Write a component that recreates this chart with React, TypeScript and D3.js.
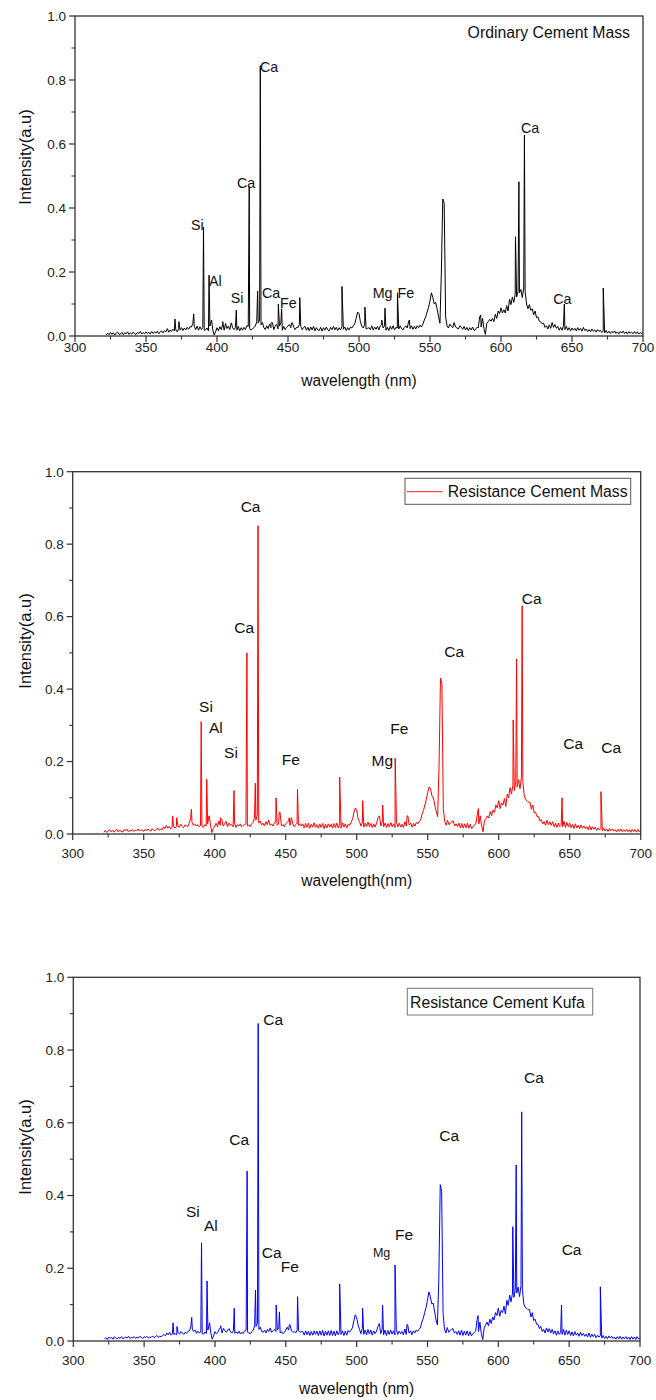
import React from 'react';
import * as d3 from 'd3';

// ---------- shared axis values ----------
const WL_START = 322; // first wavelength (nm) of the sampled spectra, 1 nm step
const xTicks = [300, 350, 400, 450, 500, 550, 600, 650, 700];
const xMinor = [325, 375, 425, 475, 525, 575, 625, 675];
const yTicks = [0, 0.2, 0.4, 0.6, 0.8, 1.0];
const yMinor = [0.1, 0.3, 0.5, 0.7, 0.9];

// ---------- Ordinary Cement Mass (intensity x 0.001, 322..700 nm) ----------
const ordinaryBase = [
  3, 9, 4, 11, 5, 10, 3, 9, 12, 5,
  6, 11, 4, 10, 7, 13, 5, 10, 6, 12,
  7, 5, 11, 8, 14, 6, 11, 7, 13, 8,
  12, 6, 14, 8, 13, 9, 15, 7, 13, 16,
  10, 17, 13, 23, 12, 19, 14, 21, 16, 19,
  13, 23, 18, 26, 17, 25, 19, 27, 21, 29,
  28, 40, 30, 20, 31, 18, 29, 20, 26, 18,
  19, 25, 16, 31, 48, 20, 3, 13, 26, 16,
  29, 20, 36, 18, 39, 23, 31, 20, 41, 26,
  20, 27, 18, 30, 16, 26, 18, 27, 20, 32,
  30, 24, 18, 23, 26, 31, 45, 40, 50, 35,
  42, 26, 20, 32, 23, 37, 26, 42, 20, 32,
  36, 22, 31, 41, 18, 30, 20, 27, 32, 36,
  26, 42, 28, 20, 27, 26, 36, 30, 20, 27,
  30, 18, 27, 16, 28, 19, 30, 16, 26, 19,
  17, 27, 15, 26, 18, 28, 19, 16, 27, 20,
  30, 19, 27, 17, 26, 19, 30, 21, 28, 17,
  26, 19, 28, 25, 32, 38, 55, 75, 70, 45,
  30, 25, 37, 22, 24, 26, 20, 32, 19, 28,
  21, 30, 19, 32, 36, 25, 32, 18, 27, 17,
  30, 21, 32, 19, 27, 25, 22, 32, 23, 19,
  27, 32, 25, 46, 23, 32, 21, 30, 22, 32,
  26, 34, 28, 37, 50, 60, 75, 90, 110, 135,
  120, 100, 105, 85, 60, 40, 200, 428, 415, 60,
  32, 25, 37, 30, 26, 42, 28, 25, 22, 32,
  28, 21, 30, 19, 27, 17, 26, 19, 28, 17,
  20, 27, 26, 60, 28, 55, 23, 5, 40, 45,
  52, 46, 55, 45, 68, 55, 78, 70, 88, 72,
  82, 72, 95, 78, 115, 98, 122, 105, 130, 122,
  140, 135, 145, 120, 150, 140, 100, 85, 98, 80,
  85, 66, 78, 57, 60, 46, 44, 38, 40, 27,
  32, 22, 35, 24, 42, 27, 36, 24, 30, 18,
  27, 18, 32, 20, 30, 18, 26, 16, 25, 18,
  24, 16, 26, 18, 24, 15, 27, 17, 21, 14,
  20, 13, 22, 15, 19, 12, 20, 14, 18, 11,
  16, 10, 17, 9, 15, 8, 14, 10, 16, 8,
  13, 7, 14, 9, 15, 8, 13, 6, 14, 9,
  12, 7, 14, 8, 13, 6, 11, 7, 12,
];
const ordinaryLines: [number, number][] = [
  [370.4, 0.053], [373.2, 0.045], [383.6, 0.069], [390.5, 0.34], [394.4, 0.19],
  [396.2, 0.05], [404, 0.045], [410.2, 0.04], [413.6, 0.081], [422.7, 0.467],
  [428.6, 0.14], [430.5, 0.845], [438, 0.04], [443.2, 0.10], [445.5, 0.085],
  [452.5, 0.04], [458.3, 0.12], [488, 0.155], [504.2, 0.09], [516, 0.05],
  [518.3, 0.087], [527.1, 0.135], [535.5, 0.05], [585.7, 0.066], [610.2, 0.31],
  [612.6, 0.482], [616.5, 0.628], [644.6, 0.10], [672, 0.15],
];
const ordinaryLabels: [string, number, number, number][] = [
  ['Ca', 430.3, 0.825, 14.3], ['Ca', 414.1, 0.462, 14.3], ['Si', 381.7, 0.331, 14.3],
  ['Al', 394.4, 0.156, 14.3], ['Si', 409.6, 0.103, 14.3], ['Ca', 431.7, 0.119, 14.3],
  ['Fe', 444.4, 0.0875, 14.3], ['Mg', 509.6, 0.119, 14.3], ['Fe', 527.2, 0.119, 14.3],
  ['Ca', 614.1, 0.634, 14.3], ['Ca', 636.8, 0.10, 14.3],
];

// ---------- Resistance Cement Mass ----------
const massBase = [
  5, 10, 4, 9, 12, 6, 10, 5, 9, 13,
  6, 11, 8, 5, 12, 9, 14, 7, 10, 8,
  12, 7, 11, 9, 14, 8, 12, 10, 7, 13,
  9, 14, 10, 8, 15, 11, 9, 13, 16, 10,
  14, 12, 20, 15, 24, 16, 21, 14, 19, 22,
  16, 20, 24, 18, 27, 21, 17, 25, 23, 20,
  30, 42, 32, 24, 28, 22, 26, 20, 24, 21,
  18, 26, 22, 28, 50, 25, 4, 15, 22, 30,
  20, 36, 24, 40, 22, 28, 35, 20, 30, 24,
  26, 20, 30, 18, 26, 22, 28, 20, 24, 26,
  28, 22, 25, 20, 28, 32, 45, 38, 52, 30,
  36, 25, 30, 22, 34, 26, 38, 24, 28, 22,
  30, 36, 24, 28, 60, 22, 26, 20, 28, 32,
  36, 24, 45, 28, 20, 26, 30, 24, 28, 22,
  28, 17, 29, 18, 30, 16, 27, 19, 31, 18,
  26, 16, 28, 18, 29, 15, 27, 17, 28, 19,
  27, 16, 29, 18, 30, 17, 28, 16, 31, 19,
  28, 17, 27, 24, 32, 40, 58, 72, 66, 42,
  34, 22, 33, 19, 30, 21, 33, 20, 29, 18,
  28, 19, 30, 45, 50, 22, 34, 20, 30, 18,
  29, 19, 32, 20, 28, 18, 33, 20, 30, 19,
  27, 18, 34, 22, 50, 25, 30, 19, 29, 22,
  32, 28, 35, 38, 55, 65, 80, 95, 115, 130,
  125, 105, 100, 80, 62, 48, 190, 430, 415, 70,
  34, 24, 38, 26, 29, 35, 36, 22, 28, 20,
  30, 17, 29, 16, 28, 17, 30, 16, 27, 15,
  21, 24, 30, 55, 28, 50, 22, 6, 38, 42,
  50, 44, 62, 50, 66, 60, 80, 72, 92, 70,
  86, 80, 98, 76, 110, 100, 128, 110, 135, 120,
  145, 130, 150, 125, 155, 145, 105, 95, 92, 88,
  88, 68, 80, 58, 60, 48, 48, 36, 40, 28,
  34, 24, 38, 26, 34, 24, 34, 20, 30, 18,
  30, 20, 24, 20, 35, 18, 32, 20, 30, 17,
  27, 15, 28, 17, 24, 14, 25, 16, 22, 15,
  20, 12, 23, 11, 20, 13, 19, 10, 17, 12,
  15, 9, 16, 8, 14, 7, 15, 9, 14, 8,
  12, 6, 13, 7, 14, 6, 12, 7, 13, 6,
  12, 5, 13, 6, 12, 5, 13, 6, 10,
];
const massLines: [number, number][] = [
  [370.4, 0.05], [373.2, 0.045], [383.6, 0.068], [390.5, 0.31], [394.4, 0.151],
  [396.2, 0.05], [404, 0.045], [413.6, 0.12], [422.7, 0.50], [428.6, 0.14],
  [430.5, 0.851], [443.2, 0.10], [445.5, 0.06], [452.5, 0.045], [458.3, 0.123],
  [488, 0.157], [504.2, 0.092], [518.3, 0.08], [527.1, 0.209], [535.5, 0.05],
  [585.7, 0.07], [610.2, 0.315], [612.6, 0.483], [616.5, 0.63], [644.6, 0.10],
  [672, 0.117],
];
const massLabels: [string, number, number, number][] = [
  ['Ca', 418.3, 0.889, 15.5], ['Ca', 413.8, 0.555, 15.5], ['Si', 389, 0.338, 15.5],
  ['Al', 396, 0.279, 15.5], ['Si', 406.6, 0.21, 15.5], ['Fe', 447.2, 0.19, 15.5],
  ['Mg', 510.5, 0.188, 15.5], ['Fe', 523.7, 0.276, 15.5], ['Ca', 561.7, 0.489, 15.5],
  ['Ca', 616.2, 0.635, 15.5], ['Ca', 645.5, 0.235, 15.5], ['Ca', 672.3, 0.224, 15.5],
];

// ---------- Resistance Cement Kufa ----------
const kufaBase = [
  6, 9, 4, 11, 7, 10, 5, 12, 8, 6,
  10, 7, 12, 6, 9, 11, 8, 13, 7, 10,
  9, 12, 7, 11, 8, 13, 10, 7, 12, 9,
  13, 8, 11, 10, 14, 9, 12, 15, 10, 13,
  12, 15, 18, 14, 22, 17, 24, 16, 20, 18,
  20, 17, 23, 19, 26, 22, 18, 24, 21, 27,
  28, 40, 33, 26, 30, 21, 27, 22, 25, 20,
  19, 25, 21, 30, 46, 24, 5, 14, 26, 20,
  24, 32, 38, 22, 35, 28, 24, 30, 34, 25,
  22, 28, 21, 25, 20, 27, 19, 24, 21, 28,
  30, 24, 22, 20, 26, 30, 42, 40, 48, 32,
  38, 26, 24, 30, 22, 32, 26, 36, 24, 28,
  32, 26, 30, 36, 22, 26, 20, 24, 30, 38,
  30, 44, 28, 24, 26, 22, 30, 28, 24, 26,
  26, 16, 28, 17, 27, 15, 26, 16, 28, 18,
  27, 15, 28, 16, 29, 14, 27, 16, 28, 15,
  29, 15, 27, 14, 28, 17, 26, 18, 28, 15,
  27, 16, 29, 24, 30, 36, 55, 72, 64, 44,
  32, 20, 35, 18, 30, 17, 32, 19, 30, 16,
  28, 20, 27, 40, 48, 20, 33, 17, 30, 15,
  29, 18, 30, 19, 28, 17, 32, 18, 27, 20,
  26, 17, 33, 18, 45, 22, 28, 17, 28, 22,
  30, 26, 32, 36, 52, 62, 78, 92, 112, 135,
  122, 102, 104, 82, 58, 44, 170, 430, 412, 75,
  33, 22, 37, 24, 29, 32, 34, 22, 26, 18,
  28, 16, 30, 15, 27, 16, 28, 14, 26, 14,
  20, 23, 28, 58, 26, 52, 20, 4, 36, 44,
  52, 42, 60, 48, 66, 58, 78, 70, 90, 68,
  84, 78, 96, 74, 112, 98, 126, 108, 132, 120,
  142, 132, 148, 122, 152, 142, 102, 92, 90, 86,
  86, 66, 78, 56, 60, 46, 46, 34, 40, 26,
  32, 22, 36, 25, 34, 22, 32, 20, 28, 16,
  28, 18, 23, 18, 32, 16, 30, 18, 28, 15,
  25, 14, 26, 16, 22, 13, 24, 15, 21, 13,
  19, 11, 22, 10, 19, 12, 18, 9, 16, 11,
  14, 8, 15, 7, 13, 6, 14, 8, 13, 7,
  11, 5, 12, 6, 13, 5, 11, 6, 12, 5,
  11, 4, 12, 5, 11, 4, 12, 5, 9,
];
const kufaLines: [number, number][] = [
  [370.4, 0.05], [373.2, 0.04], [383.6, 0.065], [390.5, 0.27], [394.4, 0.165],
  [396.2, 0.05], [404, 0.042], [413.6, 0.09], [422.7, 0.467], [428.6, 0.14],
  [430.5, 0.873], [443.2, 0.099], [445.5, 0.08], [452.5, 0.045], [458.3, 0.122],
  [488, 0.157], [504.2, 0.09], [518.3, 0.099], [527.1, 0.209], [535.5, 0.045],
  [585.7, 0.07], [610.2, 0.314], [612.6, 0.484], [616.5, 0.63], [644.6, 0.099],
  [672, 0.149],
];
const kufaLabels: [string, number, number, number][] = [
  ['Ca', 434.1, 0.868, 15.5], ['Ca', 410.1, 0.538, 15.5], ['Si', 379.5, 0.34, 15.5],
  ['Al', 392.2, 0.302, 15.5], ['Ca', 433, 0.228, 15.5], ['Fe', 446.4, 0.19, 15.5],
  ['Mg', 511.5, 0.232, 12.5], ['Fe', 527.1, 0.277, 15.5], ['Ca', 558.3, 0.55, 15.5],
  ['Ca', 618.1, 0.71, 15.5], ['Ca', 644.7, 0.236, 15.5],
];

const FONT = '"Liberation Sans", Arial, Helvetica, sans-serif';

type PanelCfg = {
  base: number[];
  lines: [number, number][];
  labels: [string, number, number, number][];
  color: string;
  left: number; right: number; top: number; bottom: number;
  tickDy: number;
  xTitle: string; xTitleDy: number;
  yTitleY: number;
  legend: React.ReactNode;
};

function buildSeries(base: number[], lines: [number, number][]) {
  const pts: [number, number][] = base.map((v, i) => [WL_START + i, v / 1000]);
  return pts.concat(lines).sort((a, b) => a[0] - b[0]);
}

function Panel({ cfg }: { cfg: PanelCfg }) {
  const x = d3.scaleLinear().domain([300, 700]).range([cfg.left, cfg.right]);
  const y = d3.scaleLinear().domain([0, 1]).range([cfg.bottom, cfg.top]);
  const data = buildSeries(cfg.base, cfg.lines);
  const line = d3.line<[number, number]>().x(d => x(d[0])).y(d => y(d[1]));
  const fmt = d3.format('.1f');
  const axisColor = '#333';
  return (
    <g fontFamily={FONT}>
      <path d={line(data) || ''} fill="none" stroke={cfg.color} strokeWidth={1} strokeLinejoin="round" />
      {/* frame */}
      <rect x={cfg.left} y={cfg.top} width={cfg.right - cfg.left} height={cfg.bottom - cfg.top}
        fill="none" stroke={axisColor} strokeWidth={1.3} />
      {/* y ticks */}
      {yTicks.map(t => (
        <g key={'y' + t}>
          <line x1={cfg.left - 6} x2={cfg.left} y1={y(t)} y2={y(t)} stroke={axisColor} strokeWidth={1.2} />
          <text x={cfg.left - 9} y={y(t)} dy="0.36em" textAnchor="end" fontSize={13.5} fill="#222">{fmt(t)}</text>
        </g>
      ))}
      {yMinor.map(t => (
        <line key={'ym' + t} x1={cfg.left - 3.5} x2={cfg.left} y1={y(t)} y2={y(t)} stroke={axisColor} strokeWidth={1.1} />
      ))}
      {/* x ticks */}
      {xTicks.map(t => (
        <g key={'x' + t}>
          <line x1={x(t)} x2={x(t)} y1={cfg.bottom} y2={cfg.bottom + 6} stroke={axisColor} strokeWidth={1.2} />
          <text x={x(t)} y={cfg.bottom + cfg.tickDy} textAnchor="middle" fontSize={13.5} fill="#222">{t}</text>
        </g>
      ))}
      {xMinor.map(t => (
        <line key={'xm' + t} x1={x(t)} x2={x(t)} y1={cfg.bottom} y2={cfg.bottom + 3.5} stroke={axisColor} strokeWidth={1.1} />
      ))}
      {/* axis titles */}
      <text x={(cfg.left + cfg.right) / 2} y={cfg.bottom + cfg.xTitleDy} textAnchor="middle" fontSize={15.6} fill="#111">{cfg.xTitle}</text>
      <text transform={`translate(30.5,${cfg.yTitleY}) rotate(-90)`} textAnchor="middle" fontSize={16.5} fill="#111">Intensity(a.u)</text>
      {/* peak annotations */}
      {cfg.labels.map(([t, wl, v, fs], i) => (
        <text key={'l' + i} x={x(wl)} y={y(v)} fontSize={fs} fill="#111">{t}</text>
      ))}
      {cfg.legend}
    </g>
  );
}

export default function App() {
  const panels: PanelCfg[] = [
    {
      base: ordinaryBase, lines: ordinaryLines, labels: ordinaryLabels, color: '#000000',
      left: 75, right: 643, top: 16, bottom: 336, tickDy: 16,
      xTitle: 'wavelength (nm)', xTitleDy: 50, yTitleY: 157,
      legend: <text x={630} y={38} textAnchor="end" fontSize={15.8} fontFamily={FONT} fill="#111">Ordinary Cement Mass</text>,
    },
    {
      base: massBase, lines: massLines, labels: massLabels, color: '#ff0000',
      left: 72.7, right: 640.7, top: 471.7, bottom: 834, tickDy: 24,
      xTitle: 'wavelength(nm)', xTitleDy: 52, yTitleY: 641,
      legend: (
        <g fontFamily={FONT}>
          <rect x={405} y={478.3} width={225.7} height={26} fill="#fff" stroke="#555" strokeWidth={1} />
          <line x1={407} x2={442.7} y1={491.7} y2={491.7} stroke="#ff0000" strokeWidth={0.9} />
          <text x={447.7} y={497.3} fontSize={15.8} fill="#111">Resistance Cement Mass</text>
        </g>
      ),
    },
    {
      base: kufaBase, lines: kufaLines, labels: kufaLabels, color: '#0000ff',
      left: 73.3, right: 640, top: 977.3, bottom: 1341, tickDy: 24,
      xTitle: 'wavelength (nm)', xTitleDy: 53, yTitleY: 1147,
      legend: (
        <g fontFamily={FONT}>
          <rect x={407.3} y={988.3} width={185.4} height={26.7} fill="#fff" stroke="#777" strokeWidth={1} />
          <text x={410} y={1007.5} fontSize={15.8} fill="#111">Resistance Cement Kufa</text>
        </g>
      ),
    },
  ];
  return (
    <svg width={656} height={1400} style={{ position: 'absolute', left: 0, top: 0, background: '#fff' }}>
      <rect width={656} height={1400} fill="#fff" />
      {panels.map((p, i) => <Panel key={i} cfg={p} />)}
    </svg>
  );
}
